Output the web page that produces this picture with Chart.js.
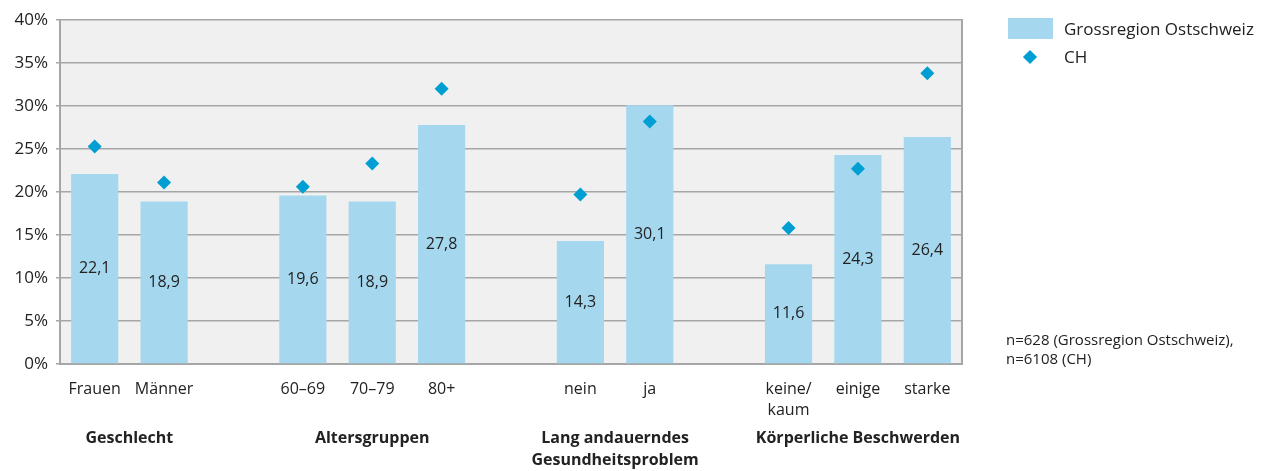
<!DOCTYPE html>
<html>
<head>
<meta charset="utf-8">
<script src="https://cdn.jsdelivr.net/npm/chart.js@4.4.1/dist/chart.umd.min.js"></script>
<style>
  body { margin: 0; background: #fff; font-family: "Open Sans", sans-serif; color: #222; }
  #wrap { position: relative; width: 1264px; height: 471px; }
  canvas { position: absolute; left: 0; top: 0; }
  .lg-box { position: absolute; left: 1008px; top: 18px; width: 45px; height: 21px; background: #a5d7ee; }
  .lg-dia { position: absolute; left: 1025px; top: 52px; width: 10px; height: 10px; background: #009fd3; transform: rotate(45deg); }
  .lg-txt { position: absolute; left: 1064px; font-size: 17px; line-height: 20px; }
  .note { position: absolute; left: 1006px; top: 330px; font-size: 15px; line-height: 19px; }
</style>
</head>
<body>
<div id="wrap">
  <canvas id="chart" width="1264" height="471"></canvas>
  <div class="lg-box"></div>
  <div class="lg-txt" style="top:19px">Grossregion Ostschweiz</div>
  <div class="lg-dia"></div>
  <div class="lg-txt" style="top:47px">CH</div>
  <div class="note">n=628 (Grossregion Ostschweiz),<br>n=6108 (CH)</div>
</div>
<script>
  // Data (empty slots separate the groups)
  const categories = ["Frauen", "Männer", "", "60–69", "70–79", "80+", "", "nein", "ja", "", ["keine/", "kaum"], "einige", "starke"];
  const ostschweiz = [22.1, 18.9, null, 19.6, 18.9, 27.8, null, 14.3, 30.1, null, 11.6, 24.3, 26.4];
  const schweiz = [25.3, 21.1, null, 20.6, 23.3, 32.0, null, 19.7, 28.2, null, 15.8, 22.7, 33.8];
  const groupNames = [["Geschlecht"], ["Altersgruppen"], ["Lang andauerndes", "Gesundheitsproblem"], ["Körperliche Beschwerden"]];
  const groupSpans = [[0, 1], [3, 5], [7, 8], [10, 12]];
  const yTicks = [0, 5, 10, 15, 20, 25, 30, 35, 40];

  const FONT = '"Open Sans", sans-serif';
  const GRID = "#a6a6a6";

  // Plot background + right border
  const frame = {
    id: "frame",
    beforeDraw(chart) {
      const a = chart.chartArea, ctx = chart.ctx;
      ctx.save();
      ctx.fillStyle = "#f0f0f0";
      ctx.fillRect(a.left, a.top, a.right - a.left, a.bottom - a.top);
      ctx.restore();
    },
    afterDraw(chart) {
      const a = chart.chartArea, ctx = chart.ctx;
      ctx.save();
      ctx.strokeStyle = GRID;
      ctx.lineWidth = 2;
      ctx.beginPath();
      ctx.moveTo(a.right, a.top - 1);
      ctx.lineTo(a.right, a.bottom + 1);
      ctx.stroke();
      ctx.restore();
    }
  };

  // Values inside bars (bar dataset is index 1)
  const barLabels = {
    id: "barLabels",
    afterDatasetsDraw(chart) {
      const ctx = chart.ctx;
      const meta = chart.getDatasetMeta(1);
      ctx.save();
      ctx.font = "16px " + FONT;
      ctx.fillStyle = "#222";
      ctx.textAlign = "center";
      ctx.textBaseline = "middle";
      meta.data.forEach((bar, i) => {
        const v = ostschweiz[i];
        if (v == null) return;
        ctx.fillText(v.toFixed(1).replace(".", ","), bar.x, (bar.y + bar.base) / 2);
      });
      ctx.restore();
    }
  };

  // Group titles below the category labels
  const groupLabels = {
    id: "groupLabels",
    afterDraw(chart) {
      const ctx = chart.ctx, x = chart.scales.x;
      ctx.save();
      ctx.font = "bold 16px " + FONT;
      ctx.fillStyle = "#222";
      ctx.textAlign = "center";
      ctx.textBaseline = "middle";
      groupSpans.forEach((span, g) => {
        const cx = (x.getPixelForValue(span[0]) + x.getPixelForValue(span[1])) / 2;
        groupNames[g].forEach((line, k) => ctx.fillText(line, cx, 438 + k * 22));
      });
      ctx.restore();
    }
  };

  new Chart(document.getElementById("chart"), {
    type: "bar",
    data: {
      labels: categories,
      datasets: [
        {
          type: "line",
          label: "CH",
          data: schweiz,
          showLine: false,
          pointStyle: "rectRot",
          pointRadius: 7,
          pointBackgroundColor: "#009fd3",
          pointBorderWidth: 0,
          order: 1
        },
        {
          label: "Grossregion Ostschweiz",
          data: ostschweiz,
          backgroundColor: "#a5d7ee",
          barPercentage: 0.68,
          categoryPercentage: 1,
          order: 2
        }
      ]
    },
    options: {
      responsive: false,
      animation: false,
      events: [],
      layout: { padding: { top: 20, right: 302, left: 0, bottom: 0 } },
      plugins: { legend: { display: false }, tooltip: { enabled: false } },
      scales: {
        x: {
          grid: { display: false },
          border: { color: GRID, width: 2 },
          ticks: { font: { family: FONT, size: 16, lineHeight: 1.3 }, color: "#222", padding: 7, maxRotation: 0, autoSkip: false },
          afterFit: s => { s.height = 107; }
        },
        y: {
          min: 0,
          max: 40,
          afterBuildTicks: s => { s.ticks = yTicks.map(v => ({ value: v })); },
          ticks: { font: { family: FONT, size: 17 }, color: "#222", padding: 8, callback: v => v + "%" },
          grid: { color: GRID, lineWidth: 1.5, tickLength: 4 },
          border: { color: GRID, width: 2 },
          afterFit: s => { s.width = 60; }
        }
      }
    },
    plugins: [frame, barLabels, groupLabels]
  });
</script>
</body>
</html>
